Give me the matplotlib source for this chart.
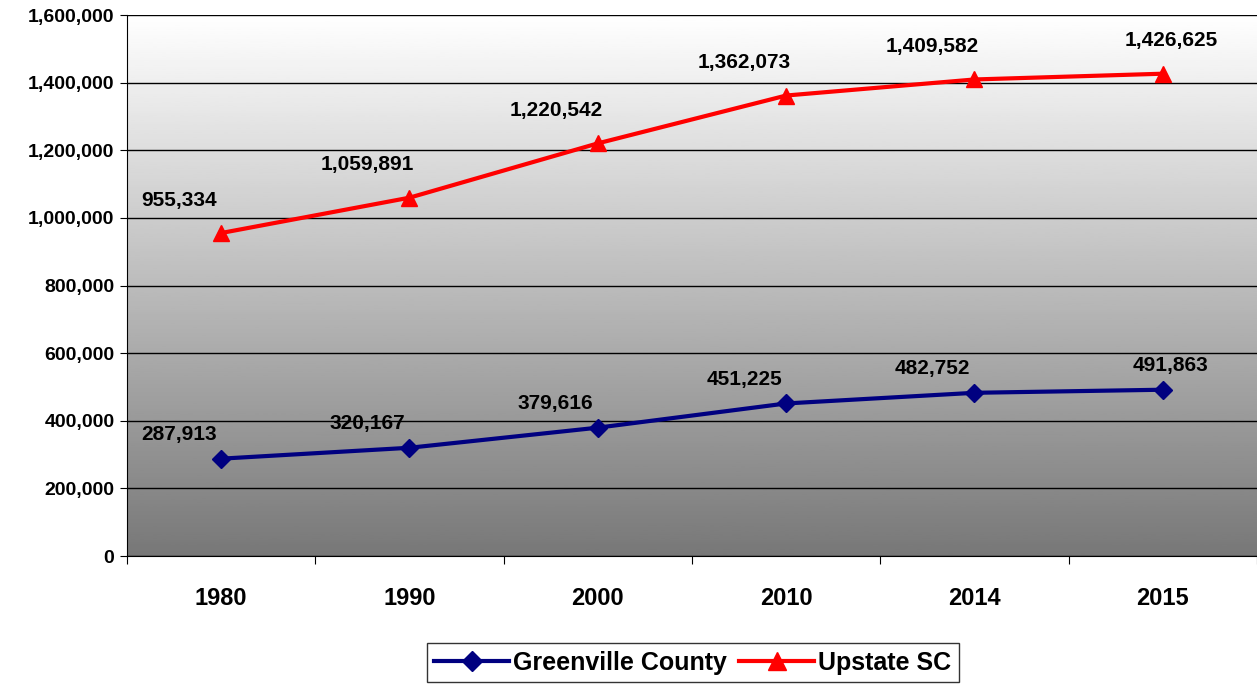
import numpy as np
import matplotlib.pyplot as plt
from matplotlib.lines import Line2D

plt.rcParams['font.family'] = ['Liberation Sans', 'DejaVu Sans']

years = ["1980", "1990", "2000", "2010", "2014", "2015"]
greenville = [287913, 320167, 379616, 451225, 482752, 491863]
upstate = [955334, 1059891, 1220542, 1362073, 1409582, 1426625]

fig = plt.figure(figsize=(12.57, 6.86), dpi=100)
ax = fig.add_axes([0.101, 0.1895, 0.899, 0.7885])

grad = np.linspace(1.0, 0.47, 256).reshape(-1, 1)
ax.imshow(grad, cmap="gray", vmin=0, vmax=1, aspect="auto",
          extent=[0, 1, 0, 1], transform=ax.transAxes, zorder=0)

x = np.arange(len(years))
ax.set_xlim(-0.5, len(years) - 0.5)
ax.set_ylim(0, 1600000)
ax.set_yticks(np.arange(0, 1600001, 200000))
ax.set_yticklabels([f"{v:,}" for v in range(0, 1600001, 200000)],
                   fontsize=14, fontweight="bold")
ax.set_xticks(np.arange(-0.5, len(years)), minor=False)
ax.set_xticklabels([])
ax.set_xticks(x, minor=True)
ax.set_xticklabels(years, minor=True, fontsize=17, fontweight="bold")
ax.tick_params(axis="x", which="minor", length=0, pad=22)
ax.tick_params(axis="x", which="major", length=6, color="black")
ax.tick_params(axis="y", length=5, pad=4)
ax.grid(axis="y", color="black", linewidth=1, zorder=1)
ax.set_axisbelow(False)
for s in ["top", "right"]:
    ax.spines[s].set_visible(False)

ax.plot(x, greenville, color="#000080", lw=3, marker="D", ms=9, zorder=3)
ax.plot(x, upstate, color="#ff0000", lw=3, marker="^", ms=12, zorder=3)

for i, (g, u) in enumerate(zip(greenville, upstate)):
    dx = -42 if i < 5 else 8
    ax.annotate(f"{u:,}", (i, u), xytext=(dx, 33), textcoords="offset pixels",
                ha="center", va="center", fontsize=15, fontweight="bold", zorder=4)
    ax.annotate(f"{g:,}", (i, g), xytext=(dx, 24), textcoords="offset pixels",
                ha="center", va="center", fontsize=15, fontweight="bold", zorder=4)

handles = [Line2D([], [], color="#000080", lw=3, marker="D", ms=10),
           Line2D([], [], color="#ff0000", lw=3, marker="^", ms=13)]
leg = fig.legend(handles, ["Greenville County", "Upstate SC"], loc="center",
                 bbox_to_anchor=(0.551, 0.034), ncol=2, frameon=True,
                 fancybox=False, edgecolor="black", handlelength=3.0,
                 handletextpad=0.15, columnspacing=0.5, borderpad=0.3,
                 prop={"size": 18, "weight": "bold"})
leg.get_frame().set_linewidth(1)

fig.savefig("out.png", dpi=100)
